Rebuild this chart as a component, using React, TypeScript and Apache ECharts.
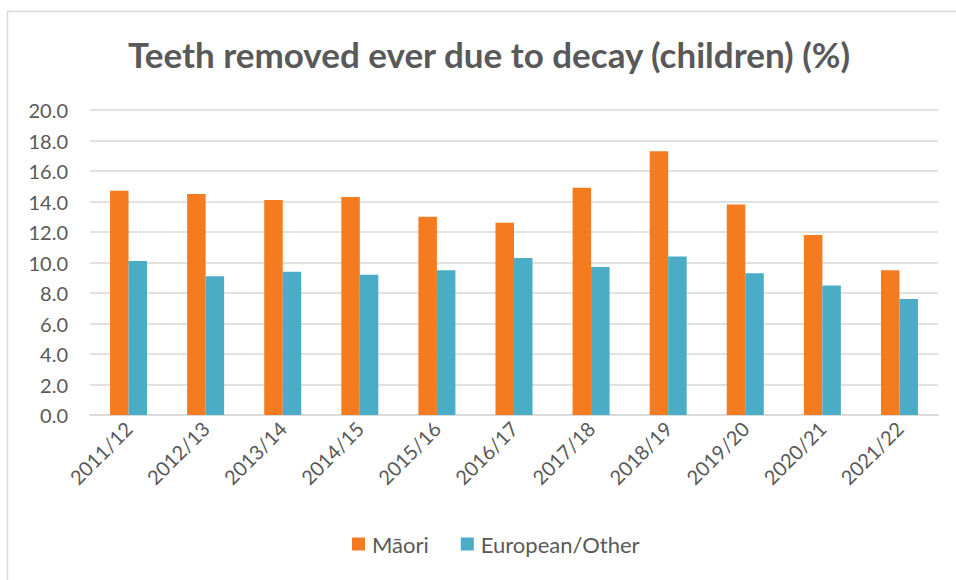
import React, { useEffect, useRef } from "react";
import * as echarts from "echarts";

const categories = [
  "2011/12", "2012/13", "2013/14", "2014/15", "2015/16", "2016/17",
  "2017/18", "2018/19", "2019/20", "2020/21", "2021/22",
];
const maoriValues = [14.7, 14.5, 14.1, 14.3, 13.0, 12.6, 14.9, 17.3, 13.8, 11.8, 9.5];
const europeanValues = [10.1, 9.1, 9.4, 9.2, 9.5, 10.3, 9.7, 10.4, 9.3, 8.5, 7.6];
const seriesNames = ["Māori", "European/Other"];
const titleText = "Teeth removed ever due to decay (children) (%)";

const FONT = "Lato, 'Open Sans', sans-serif";
const TEXT = "#595959";

export default function App() {
  const ref = useRef<HTMLDivElement>(null);
  useEffect(() => {
    if (!ref.current) return;
    const chart = echarts.init(ref.current, undefined, { renderer: "svg" });
    chart.setOption({
      animation: false,
      backgroundColor: "#ffffff",
      textStyle: { fontFamily: FONT, color: TEXT },
      title: {
        text: titleText,
        left: 484,
        textAlign: "center",
        top: 31,
        textStyle: { fontFamily: FONT, fontSize: 35, fontWeight: "bold", color: TEXT },
      },
      graphic: [
        {
          type: "rect",
          shape: { x: 7.5, y: 11.5, width: 1000, height: 700 },
          style: { fill: "none", stroke: "#d9d9d9", lineWidth: 1.5 },
          silent: true,
        },
      ],
      legend: {
        bottom: 20,
        left: 347,
        itemWidth: 13,
        itemHeight: 13,
        itemGap: 32,
        icon: "rect",
        textStyle: { fontFamily: FONT, fontSize: 22, color: TEXT, padding: [0, 0, 0, 2] },
        data: seriesNames,
      },
      grid: { left: 90, right: 18, top: 110, bottom: 165, containLabel: false },
      xAxis: {
        type: "category",
        data: categories,
        axisLine: { show: true, lineStyle: { color: "#d9d9d9", width: 1.5 } },
        axisTick: { show: false },
        axisLabel: {
          rotate: 45,
          fontFamily: FONT,
          fontSize: 20,
          color: TEXT,
          margin: 10,
          interval: 0,
        },
      },
      yAxis: {
        type: "value",
        min: 0,
        max: 20,
        interval: 2,
        axisLine: { show: false },
        axisTick: { show: false },
        splitLine: { lineStyle: { color: "#d9d9d9", width: 1.5 } },
        axisLabel: {
          fontFamily: FONT,
          fontSize: 20,
          color: TEXT,
          margin: 22,
          formatter: (v: number) => v.toFixed(1),
        },
      },
      series: [
        {
          name: seriesNames[0],
          type: "bar",
          data: maoriValues,
          barWidth: 18.5,
          barGap: "0%",
          itemStyle: { color: "#F47B20" },
        },
        {
          name: seriesNames[1],
          type: "bar",
          data: europeanValues,
          barWidth: 18.5,
          barGap: "0%",
          itemStyle: { color: "#4BACC6" },
        },
      ],
    });
    return () => chart.dispose();
  }, []);
  return (
    <div
      ref={ref}
      style={{ position: "absolute", left: 0, top: 0, width: 956, height: 580 }}
    />
  );
}
